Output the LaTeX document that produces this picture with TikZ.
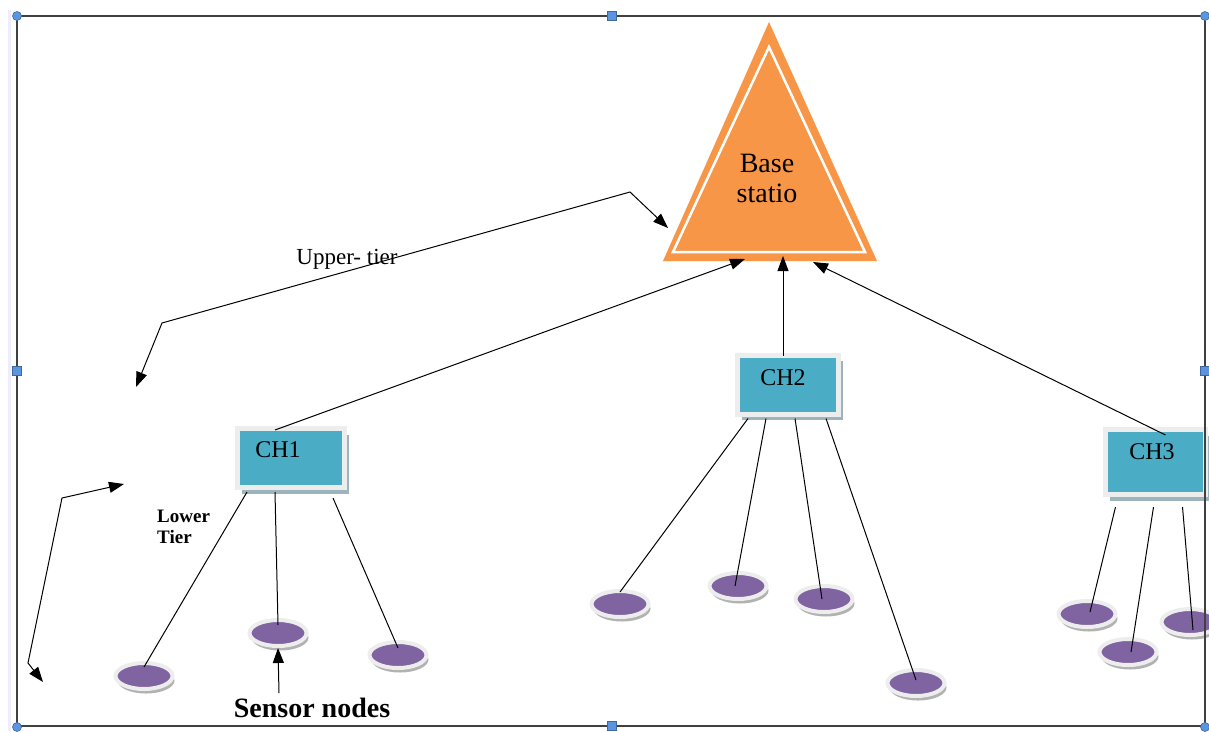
\documentclass[tikz,border=0pt]{standalone}
\usepackage{fontspec}
\setmainfont{Liberation Serif}
\usetikzlibrary{shapes.geometric,shadows,arrows.meta}
\definecolor{bsorange}{HTML}{F79646}
\definecolor{chblue}{HTML}{4BACC6}
\definecolor{nodepurple}{HTML}{8064A2}
\definecolor{rimgray}{HTML}{EDEDED}
\definecolor{shadowblue}{HTML}{9DB4BD}
\definecolor{framegray}{HTML}{404040}
\definecolor{handleblue}{HTML}{5B95E0}

\begin{document}
\begin{tikzpicture}[x=1pt, y=-1pt,
  chbox/.style={rectangle, fill=chblue, draw=rimgray, line width=5pt, minimum width=107pt, minimum height=59pt, drop shadow={shadow xshift=4pt, shadow yshift=-6pt, fill=shadowblue, opacity=1}},
  chtext/.style={font=\fontsize{24}{26}\selectfont},
  sensor/.style={ellipse, fill=nodepurple, draw=rimgray, line width=4pt, minimum width=57pt, minimum height=26pt, inner sep=0pt, drop shadow={shadow xshift=2pt, shadow yshift=-4.5pt, fill=gray!60, opacity=1}},
  link/.style={black, line width=1pt},
  arrow/.style={link, -{Triangle[length=15pt, width=11pt]}},
  tier/.style={link, {Triangle[length=15pt, width=11pt]}-{Triangle[length=15pt, width=11pt]}},
  handle/.style={draw=handleblue!70!black, fill=handleblue, line width=0.6pt}
]
\useasboundingbox (0,0) rectangle (1209,731);
\draw[blue!7, line width=3pt] (9,10) -- (9,731);

% base station
\fill[bsorange] (769,22) -- (877,261) -- (663,261) -- cycle;
\draw[white, line width=2.5pt] (769,47) -- (865,252) -- (673,252) -- cycle;
\node[align=center, font=\fontsize{28}{30}\selectfont] (bs) at (767,178) {Base\\statio};
\coordinate (bsl) at (745,259);
\coordinate (bsm) at (783,256);
\coordinate (bsr) at (813,262);

% cluster heads
\node[chbox, label={[chtext, xshift=-13pt, yshift=8pt]center:CH1}] (ch1) at (291,458) {};
\node[chbox, minimum width=101pt, label={[chtext, xshift=-5pt, yshift=6.5pt]center:CH2}] (ch2) at (788,384.5) {};
\node[chbox, minimum width=100pt, minimum height=65pt, label={[chtext, xshift=-3.5pt, yshift=10pt]center:CH3}] (ch3) at (1155.5,462) {};

% sensor nodes
\node[sensor] (s1) at (144,676) {};
\node[sensor] (s2) at (278,633) {};
\node[sensor] (s3) at (398,655) {};
\node[sensor] (s4) at (620,604) {};
\node[sensor] (s5) at (738,586) {};
\node[sensor] (s6) at (824,599) {};
\node[sensor] (s7) at (916,683) {};
\node[sensor] (s8) at (1087,614) {};
\node[sensor] (s9) at (1128,652) {};
\node[sensor] (s10) at (1190,622) {};

\draw[arrow] ([xshift=-16pt, yshift=-4pt]ch1.north) -- (bsl);
\draw[arrow] ([xshift=-5pt, yshift=-3pt]ch2.north) -- (bsm);
\draw[arrow] ([xshift=10pt, yshift=-8pt]ch3.north) -- (bsr);

\draw[link] ([xshift=-44pt, yshift=-2pt]ch1.south) -- ([yshift=9pt]s1.center);
\draw[link] ([xshift=-16pt, yshift=-2pt]ch1.south) -- ([yshift=8pt]s2.center);
\draw[link] ([xshift=42pt, yshift=-8pt]ch1.south) -- ([yshift=7pt]s3.center);
\draw[link] ([xshift=-40pt, yshift=-2pt]ch2.south) -- ([yshift=12pt]s4.center);
\draw[link] ([xshift=-22pt, yshift=-2pt]ch2.south) -- ([xshift=-3pt]s5.center);
\draw[link] ([xshift=7pt, yshift=-2pt]ch2.south) -- ([xshift=-2pt]s6.center);
\draw[link] ([xshift=38pt, yshift=-2pt]ch2.south) -- ([yshift=3pt]s7.center);
\draw[link] ([xshift=-40pt, yshift=-10pt]ch3.south) -- ([xshift=3pt, yshift=2pt]s8.center);
\draw[link] ([xshift=-2pt, yshift=-10pt]ch3.south) -- ([xshift=3pt]s9.center);
\draw[link] ([xshift=27pt, yshift=-10pt]ch3.south) -- ([xshift=3pt, yshift=-8pt]s10.center);

% tiers
\node[font=\fontsize{23}{25}\selectfont] (upper) at (347,259) {Upper- tier};
\coordinate (up1) at (136,387);
\coordinate (up2) at (630,192);
\coordinate (up3) at (668,228);
\draw[tier] (up1) -- (162,323) -- (up2) -- (up3);

\node[align=left, anchor=north west, inner sep=0pt, font=\bfseries\fontsize{19}{21}\selectfont] (lower) at (157,510) {Lower\\Tier};
\coordinate (lo1) at (124,484);
\coordinate (lo2) at (43,682);
\draw[tier] (lo1) -- (62,498) -- (28,663) -- (lo2);

\node[anchor=base, font=\bfseries\fontsize{28}{30}\selectfont] (sn) at (312,717) {Sensor nodes};
\coordinate (snt) at (279,693);
\draw[arrow] (snt) -- (s2.south);

% frame
\draw[framegray, line width=1.5pt] (17,16) rectangle (1205,726);
\filldraw[handle] (17,16) circle (4.5pt);
\filldraw[handle] (1205,16) circle (4.5pt);
\filldraw[handle] (17,727) circle (4.5pt);
\filldraw[handle] (1205,727) circle (4.5pt);
\filldraw[handle] (607.5,11.5) rectangle (616.5,20.5);
\filldraw[handle] (607.5,721.5) rectangle (616.5,730.5);
\filldraw[handle] (12.5,366.5) rectangle (21.5,375.5);
\filldraw[handle] (1200.5,366.5) rectangle (1209.5,375.5);
\end{tikzpicture}
\end{document}
